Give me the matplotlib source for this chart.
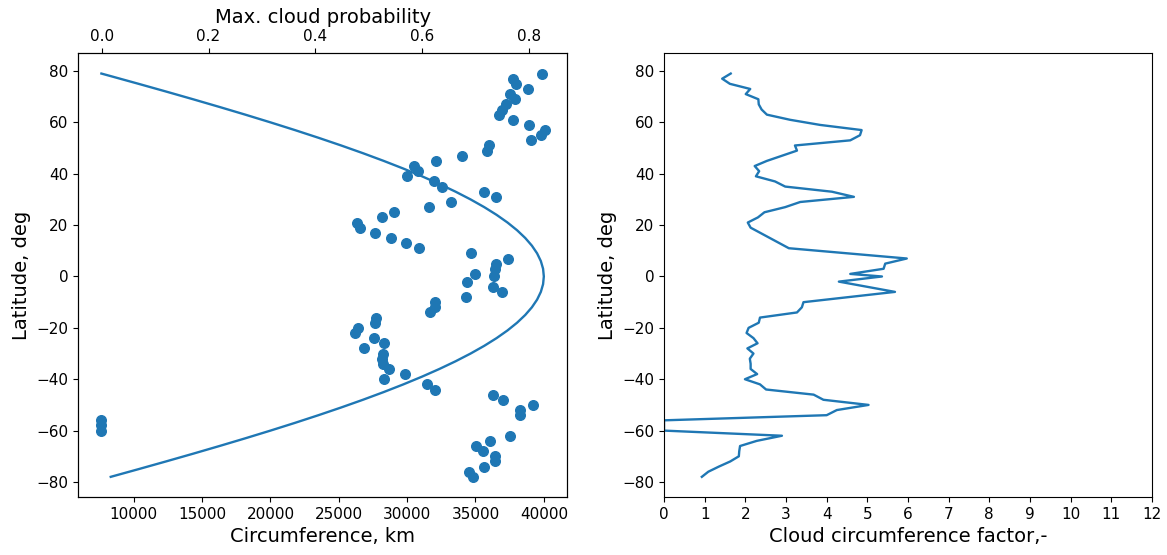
import matplotlib
matplotlib.use("Agg")
import matplotlib.pyplot as plt

# Scatter: latitude (deg) and circumference (km)
scatter_lat = [79, 77, 75, 73, 71, 69, 67, 65, 63, 61, 59, 57, 55, 53, 51, 49, 47, 45, 43, 41,
               39, 37, 35, 33, 31, 29, 27, 25, 23, 21, 19, 17, 15, 13, 11, 9, 7, 5, 3, 1,
               0, -2, -4, -6, -8, -10, -12, -14, -16, -18, -20, -22, -24, -26, -28, -30, -32, -34, -36, -38,
               -40, -42, -44, -46, -48, -50, -52, -54, -56, -58, -60, -62, -64, -66, -68, -70, -72, -74, -76, -78]
scatter_circ = [39853, 37780, 37977, 38856, 37560, 37926, 37245, 36950, 36703, 37780,
                38930, 40073, 39758, 39025, 36000, 35825, 34023, 32141, 30529, 30771,
                29995, 31972, 32558, 35656, 36513, 33217, 31606, 29013, 28134, 26303,
                26574, 27673, 28823, 29921, 30895, 34704, 37363, 36513, 36410, 34975,
                36366, 34389, 36293, 36952, 34338, 32067, 32067, 31701, 27746, 27651,
                26377, 26208, 27548, 28332, 26845, 28237, 28134, 28208, 28647, 29819,
                28332, 31459, 32067, 36264, 36996, 39193, 38293, 38241, 7568, 7568,
                7568, 37509, 36044, 35019, 35561, 36410, 36440, 35656, 34506, 34828]

# Curve: circumference of the parallel (km) at latitude
curve_lat = [79, 78, 75, 72, 69, 66, 63, 60, 57, 54, 51, 48, 45, 42, 39, 36, 33, 30, 27, 24,
             21, 18, 15, 12, 9, 6, 3, 0,
             -3, -6, -9, -12, -15, -18, -21, -24, -27, -30, -33, -36, -39, -42, -45, -48,
             -51, -54, -57, -60, -63, -66, -69, -72, -75, -78]
curve_circ = [7632, 8316, 10353, 12361, 14335, 16269, 18160, 20000, 21786, 23511, 25173,
              26765, 28284, 29726, 31086, 32361, 33547, 34641, 35640, 36542,
              37343, 38042, 38637, 39126, 39508, 39781, 39945, 40000,
              39945, 39781, 39508, 39126, 38637, 38042, 37343, 36542, 35640, 34641,
              33547, 32361, 31086, 29726, 28284, 26765, 25173, 23511, 21786, 20000,
              18160, 16269, 14335, 12361, 10353, 8316]

# Right panel: cloud circumference factor vs latitude
factor_lat = [79, 77, 75, 73, 71, 69, 67, 65, 63, 61, 59, 57, 55, 53, 51, 49, 45, 43, 41, 39,
              37, 35, 33, 31, 29, 27, 25, 23, 21, 19, 11, 7, 5, 3, 1,
              0, -2, -6, -10, -12, -14, -16, -18, -20, -22, -24, -26, -28, -30, -32, -34, -36,
              -38, -40, -42, -44, -46, -48, -50, -52, -54, -56, -58, -60, -62, -64, -66, -68,
              -70, -72, -74, -76, -78]
factor_val = [1.64, 1.43, 1.62, 2.12, 2.01, 2.32, 2.33, 2.40, 2.53, 3.10, 3.84, 4.86, 4.82, 4.58,
              3.22, 3.27, 2.53, 2.23, 2.34, 2.26, 2.73, 2.98, 4.13, 4.67, 3.35, 2.98, 2.47,
              2.31, 2.06, 2.13, 3.07, 5.97, 5.44, 5.40, 4.58,
              5.36, 4.30, 5.68, 3.43, 3.39, 3.27, 2.36, 2.33, 2.08, 2.03, 2.20, 2.30, 2.05,
              2.20, 2.11, 2.13, 2.13, 2.29, 1.99, 2.36, 2.51, 3.68, 3.92, 5.03, 4.25, 4.00,
              0.0, 0.0, 0.0, 2.90, 2.28, 1.87, 1.85, 1.84, 1.63, 1.35, 1.09, 0.93]

prob_ticks = [0.0, 0.2, 0.4, 0.6, 0.8]
factor_ticks = list(range(0, 13))
lat_ticks = [-80, -60, -40, -20, 0, 20, 40, 60, 80]

TICK = 11
LABEL = 14
LW = 1.7

fig = plt.figure(figsize=(11.67, 5.55), dpi=100)
ax1 = fig.add_axes([0.0671, 0.1045, 0.4188, 0.7993])
ax2 = fig.add_axes([0.569, 0.1045, 0.4181, 0.7993])

ax1.scatter(scatter_circ, scatter_lat, color="C0", s=48, zorder=2)
ax1.plot(curve_circ, curve_lat, color="C0", lw=LW)
ax1.set_xlabel("Circumference, km", fontsize=LABEL)
ax1.set_ylabel("Latitude, deg", fontsize=LABEL)
ax1.set_xticks([10000, 15000, 20000, 25000, 30000, 35000, 40000])
ax1.set_yticks(lat_ticks)
ax1.tick_params(labelsize=TICK)

axt = ax1.twiny()
axt.set_xlim(-0.0438, 0.871)
axt.set_xticks(prob_ticks)
axt.set_xlabel("Max. cloud probability", fontsize=LABEL)
axt.tick_params(labelsize=TICK)

ax2.plot(factor_val, factor_lat, color="C0", lw=LW)
ax2.set_xlim(0, 12)
ax2.set_xticks(factor_ticks)
ax2.set_ylim(ax1.get_ylim())
ax2.set_yticks(lat_ticks)
ax2.set_xlabel("Cloud circumference factor,-", fontsize=LABEL)
ax2.set_ylabel("Latitude, deg", fontsize=LABEL)
ax2.tick_params(labelsize=TICK)

fig.savefig("out.png", dpi=100)
